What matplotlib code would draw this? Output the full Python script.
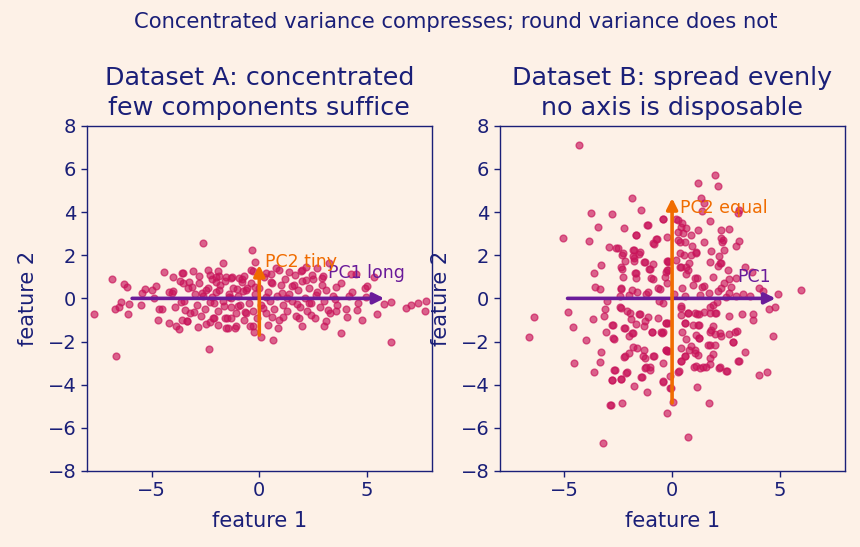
import matplotlib
matplotlib.use('Agg')
import matplotlib.pyplot as plt

# Dataset A: points (x, y)
ax_a = [-7.69, -6.84, -6.67, -6.71, -6.51, -6.4, -6.28, -6.13, -6.1, -6.05, -5.46, -5.29, -4.88, -4.78,
        -4.71, -4.63, -4.43, -4.17, -4.04, -4.0, -3.86, -3.73, -3.63, -3.55, -3.52, -3.43, -3.37, -3.24,
        -3.12, -3.01, -2.86, -2.81, -2.59, -2.47, -2.35, -2.31, -2.3, -2.08, -2.01, -1.93, -1.93, -1.88,
        -1.67, -1.6, -1.53, -1.46, -1.4, -1.32, -1.25, -1.15, -1.0, -0.8, -0.67, -0.57, -0.34, -0.19,
        -0.3, -0.28, -0.23, 0.08, 0.65, 0.54, 0.93, 1.08, 1.5, 1.85, 1.97, 2.16, 2.3, 2.7, 2.96, 3.2,
        3.24, 3.55, 3.78, 4.06, 4.14, 4.24, 4.47, 4.55, 4.78, 4.94, 5.0, 5.32, 5.48, 5.79, 6.13, 6.13,
        6.79, 7.02, 7.38, 7.72, 7.67,
        -3.58, -3.06, -2.39, -2.0, -1.31, -0.69, -0.38, 0.31, 0.77, 1.39, 1.93, 2.16, 2.93, 3.55,
        -3.37, -2.16, -1.54, -1.08, -0.62, 0.39, 2.39, 3.09,
        -4.2, -3.9, -3.7, -3.5, -3.3, -3.2, -3.0, -2.9, -2.8, -2.7, -2.6, -2.5, -2.4, -2.3, -2.2, -2.1,
        -2.0, -1.9, -1.8, -1.7, -1.6, -1.5, -1.4, -1.3, -1.2, -1.1, -1.0, -0.9, -0.8, -0.7, -0.6, -0.5,
        -0.4, -0.3, -0.2, -0.1, 0.0, 0.1, 0.2, 0.3, 0.4, 0.5, 0.6, 0.7, 0.8, 0.9, 1.0, 1.1, 1.2, 1.3,
        1.4, 1.5, 1.6, 1.7, 1.8, 1.9, 2.0, 2.1, 2.2, 2.3, 2.4, 2.5, 2.6, 2.7, 2.8, 2.9, 3.0, 3.1, 3.3,
        3.4, 3.6, 3.8, 4.0, 4.3, 4.6, 4.9,
        -1.85, -0.95, 0.55, 1.65, 2.45, -2.45, -0.45, 0.85, 2.0, 3.0, -3.6, -4.5, -5.0, -5.5, -4.0,
        1.3, -1.3, 0.3, -2.2, 3.5, -0.75, 0.15, 1.05, -1.65, 2.65, -2.65, 0.6, -0.2, 1.75, -1.05]
ay_a = [-0.72, 0.89, -2.65, -0.5, -0.38, -0.15, 0.66, 0.52, -0.72, -0.25, 0.27, 0.42, 0.0, 0.58,
        -1.0, -0.47, 1.21, -1.15, 0.24, 0.36, -1.26, -1.4, -0.19, 1.2, 0.7, -0.53, -1.03, 0.78,
        0.55, -0.61, -1.33, 1.04, 2.55, 0.39, -2.35, 1.1, -0.15, -0.92, 0.76, 1.29, -1.25, 0.4,
        1.63, -0.9, 1.0, -1.36, 0.05, -0.9, 1.0, -1.37, -0.33, 0.78, -0.62, 0.47, 2.25, 1.7,
        -1.3, 1.25, -1.54, -1.8, -1.95, 0.78, 1.32, -0.84, 0.58, -0.92, 1.3, 0.86, -0.2, 1.4, 1.02, -0.56,
        1.63, -0.6, -1.61, -0.86, 0.13, 1.13, 1.15, -0.55, -0.99, 0.05, 0.56, 1.01, -0.72, -0.25, -0.16, -2.03,
        -0.45, -0.29, -0.22, -0.12, -0.58,
        1.17, 1.27, 1.32, 1.01, 0.93, 1.06, 1.32, 1.17, 1.4, 1.24, 1.27, 1.47, 0.96, 0.55,
        -1.07, -0.92, -1.38, -1.3, -0.69, -1.23, -0.76, -1.04,
        0.3, -0.4, 0.8, -0.1, 0.5, -0.7, 0.2, -0.3, 0.7, -0.8, 0.1, -0.5, 0.5, -1.1, 0.9, -0.2,
        0.3, -0.6, 0.6, -0.1, 0.8, -0.9, 0.2, -0.4, 0.5, -0.7, 0.1, -0.3, 0.9, -1.0, 0.4, -0.2,
        0.7, -0.6, 0.2, -0.9, 0.5, -0.3, 1.0, -0.7, 0.3, -0.1, 0.7, -0.5, 0.1, -1.0, 0.6, -0.3, 0.9, -0.6,
        0.2, -0.1, 0.6, -0.8, 0.4, -0.4, 0.8, 0.0, -0.6, 0.5, -0.2, 0.9, -0.9, 0.3, -0.4, 0.6, -0.1, 0.4, -0.7,
        0.1, -0.3, 0.7, -0.5, 0.3, -0.2, 0.5,
        1.05, 0.95, 1.15, 1.1, 1.1, -1.2, -1.3, -1.35, -1.3, -1.3, -1.0, -0.5, 0.4, -0.3, 1.0,
        0.0, 0.0, 0.05, 0.05, -0.05, 0.35, -0.45, 0.25, -0.35, 0.15, 0.25, -0.85, 0.55, -0.25, 0.45]

# Dataset B: points (x, y)
bx_b = [-4.31, -1.86, -3.76, -2.79, -1.44, -0.43, -3.44, -2.23, -1.12, -5.06, -3.85, -1.68, -0.7, -0.86,
        -2.93, -2.51, -2.31, -1.78, -1.8, -1.54, -2.2, -1.78, -1.32, -0.89, -0.19, -3.28, -3.62, -2.37,
        -1.66, -2.28, -1.67, -1.09, -0.96, -0.27, -0.22, -3.59, -3.36, -2.35, -1.63, -1.12, -0.66, -2.0,
        -6.4, -6.63, -4.82, -4.59, -3.67, -3.12, -3.17, -4.0, -4.54, -3.28, -3.36, -3.62, -2.74, -3.05,
        -2.69, -2.25, -2.35, -2.1, -1.92, -1.54, -1.66, -1.3, -2.0, -1.8, -1.12, -0.66, -0.27, -0.93,
        -0.5, -0.43, -2.25, -2.0, -1.81, -1.62, -1.3, -1.27, -0.86, -1.19, -1.02, -0.24, -0.43, -2.69,
        -2.09, -2.79, -2.35, -1.77, -1.38, -1.15, -0.43, -0.08, 0.04, -2.86, -2.32, -0.22, -3.2,
        4.93, 6.0, 4.51, 4.78, 4.67, 4.02, 4.39, 3.4, 3.09, 3.74, 3.77, 3.25, 2.66, 3.0, 2.66, 2.82,
        2.2, 2.25, 1.97, 1.81, 1.88, 1.74, 1.97, 1.92, 1.5, 1.27, 1.08, 0.73, 0.43, 0.43, 0.58, 0.97,
        1.2, 1.09, 1.27, 1.74, 1.97, 0.63, 0.47, 0.43, 0.89, 1.08, 1.2, 0.58, 0.43, 1.74, 1.92, 1.58,
        1.31, 1.0, 2.17, 2.54, 0.32, 1.15, 1.7, 0.73, -0.43, -0.27, -0.19, 2.51, 2.97,
        2.0, 1.19, 2.12, 1.32, 1.5, 1.38, 3.05, 3.1, -0.43, 1.78, 0.19, 0.45, 0.66, 1.19, 2.25, 2.66,
        0.27, 0.5, 0.89, 1.5, 2.28, 2.3, 3.09, 2.97, -0.24, 0.27, 0.35, 0.54, 0.89, 1.09, 1.81, 2.17,
        2.43, 2.28, 2.12, 3.4, 3.71, -0.24, -0.24, 0.35, 0.66, 0.66, 1.04, 1.89, 2.66, 2.43, 0.96, 1.41,
        1.7, 2.12, 2.66, 3.28, 4.05, 4.2,
        0.27, 0.43, 0.35, 0.62, 2.35, -1.66, -1.15, -2.62, -2.28, -1.81, -1.78, -1.27, -1.5, -0.89,
        -0.73, -0.19, -0.19, 0.19, 0.43, 0.73, 0.8, 1.09, 0.93, 1.74, 2.2, 2.6, -2.31, -1.74, -1.04,
        -0.89, -0.33, -2.35, -1.88, -0.58, 0.47, 1.15, 1.5, 2.28, 2.74, 2.97,
        -2.43, -1.97, -1.5, -1.27, -2.2, -2.78, -2.74, -1.88, -0.92, -0.46, -0.27, 0.43, 0.73, 1.15,
        0.58, 1.27, 1.74, 1.74, 2.05, 2.9, 1.27, 1.66, 2.82, 0.8, 1.04, 0.62, 0.43, 1.11, 1.43, 1.74,
        2.2, 2.51, 3.05, -0.19, -0.3, -0.89, -1.35, -2.2, -1.27, -1.04, -2.66, -2.12, -2.77, -2.35,
        -1.42, -0.43, -0.12, -0.04, 0.27, -2.85,
        0.1, 0.6, 1.3, -0.6, -1.2, -2.4, -3.0, 2.1, 3.6]
by_b = [7.09, 4.64, 3.96, 3.9, 4.08, 3.67, 3.3, 3.25, 3.39, 2.79, 2.66, 2.93, 2.74, 2.51,
        2.37, 2.32, 2.01, 2.25, 1.95, 2.05, 1.75, 1.72, 1.68, 1.58, 1.74, 1.55, 1.17, 1.47,
        1.17, 1.01, 0.95, 1.38, 0.96, 1.24, 0.73, 0.55, 0.43, 0.43, 0.3, 0.28, 0.47, 0.15,
        -0.87, -1.8, -0.64, -1.33, -0.96, -0.5, -0.81, -1.92, -3.0, -2.48, -2.94, -3.4, -1.23, -1.57,
        -1.88, -1.37, -0.45, -0.6, -0.96, -0.72, -1.18, -1.3, -1.74, -1.6, -0.84, -0.92, -1.12, -1.55,
        -1.54, -0.22, -2.72, -2.51, -2.26, -2.3, -2.38, -2.77, -2.69, -3.16, -3.2, -2.46, -3.0, -3.31,
        -3.43, -3.8, -3.74, -4.07, -3.65, -4.34, -3.88, -4.16, -4.82, -4.95, -4.85, -5.32, -6.7,
        0.19, 0.39, -0.5, -0.41, -1.74, -3.56, -3.4, -2.48, -2.91, -0.72, -1.0, -0.72, -0.81, -1.5, -1.64, -2.03,
        -1.61, -1.73, -1.66, -1.46, -1.3, -0.66, -0.69, -0.3, -0.61, -0.72, -0.69, -0.66, -0.35, -0.77, -1.12, -1.23,
        -1.23, -1.69, -1.84, -2.15, -2.15, -1.89, -1.54, -2.31, -2.23, -2.39, -2.62, -2.66, -2.92, -2.77, -2.58, -3.16,
        -3.23, -3.16, -3.23, -3.36, -3.36, -4.11, -4.85, -6.43, -1.54, -2.38, -1.15, 0.08, 0.12,
        5.72, 5.33, 5.21, 4.64, 4.4, 4.05, 3.94, 4.1, 3.68, 3.6, 3.67, 3.5, 3.25, 3.17, 3.17, 3.22,
        3.1, 3.02, 2.95, 2.63, 2.79, 2.6, 2.68, 2.43, 2.86, 2.7, 2.09, 2.0, 2.0, 2.09, 2.21, 1.98,
        2.24, 1.63, 1.48, 1.44, 1.24, 1.75, 1.32, 1.47, 1.44, 1.13, 0.93, 1.01, 0.89, 0.7, 0.62, 0.55,
        0.24, 0.32, 0.24, 0.21, 0.47, 0.32,
        3.63, 3.32, 2.63, 2.63, 2.71, 2.94, 3.4, 2.32, 2.09, 2.24, 1.85, 1.7, 2.14, 2.55,
        2.74, 1.7, 1.32, 1.78, 1.45, 1.32, 1.63, 2.17, 2.45, 1.7, 1.63, 1.32, 1.35, 1.17, 1.35,
        0.9, 0.97, 0.47, 0.39, 0.43, 0.47, 0.93, 0.56, 0.47, 0.55, 0.93,
        -0.38, -0.69, -0.72, -1.07, -1.38, -1.23, -1.84, -1.62, -1.54, -1.61, -1.15, -0.45, -0.69, -0.72,
        -1.15, -1.23, -0.38, -1.54, -0.69, -1.54, -1.84, -2.15, -2.0, -2.38, -2.54, -2.66, -2.88, -3.12, -3.2, -3.04,
        -3.2, -3.36, -2.92, -2.46, -2.38, -2.69, -2.69, -2.69, -3.23, -3.31, -3.31, -3.46, -3.77, -3.74,
        -3.65, -3.85, -3.59, -4.16, -3.39, -4.92,
        0.2, 0.1, 0.15, -0.1, 0.2, 0.1, -0.1, -0.15, 0.1]

pc_a = {'pc1': [(-5.9, 0.0), (5.8, 0.0)], 'pc2': [(0.0, -1.7), (0.0, 1.55)]}
pc_b = {'pc1': [(-4.85, 0.0), (4.8, 0.0)], 'pc2': [(0.0, -4.85), (0.0, 4.65)]}

bg = '#FDF1E7'
ink = '#1A1F78'
dot = '#C8145A'
purple = '#6A1B9A'
orange = '#F06C00'

fig = plt.figure(figsize=(8.6, 5.47), dpi=100, facecolor=bg)
axA = fig.add_axes([0.101, 0.139, 0.401, 0.631])
axB = fig.add_axes([0.581, 0.139, 0.401, 0.631])


def panel(ax, xs, ys, pc, title, lab1, lab1_pos, lab2, lab2_pos):
    ax.set_facecolor(bg)
    ax.scatter(xs, ys, s=24, color=dot, alpha=0.65, edgecolors=dot, linewidths=1.0, zorder=2)
    for key, col in (('pc1', purple), ('pc2', orange)):
        (x0, y0), (x1, y1) = pc[key]
        ax.annotate('', xy=(x1, y1), xytext=(x0, y0),
                    arrowprops=dict(arrowstyle='-|>', color=col, lw=2.6,
                                    mutation_scale=16, shrinkA=0, shrinkB=0),
                    zorder=3)
    ax.text(lab1_pos[0], lab1_pos[1], lab1, color=purple, fontsize=12.5, va='center', zorder=4)
    ax.text(lab2_pos[0], lab2_pos[1], lab2, color=orange, fontsize=12.5, va='center', zorder=4)
    ax.set_xlim(-8, 8)
    ax.set_ylim(-8, 8)
    ax.set_xticks([-5, 0, 5])
    ax.set_yticks([-8, -6, -4, -2, 0, 2, 4, 6, 8])
    ax.tick_params(colors=ink, labelsize=14, length=4, width=1)
    for sp in ax.spines.values():
        sp.set_color(ink)
        sp.set_linewidth(1.0)
    ax.set_xlabel('feature 1', color=ink, fontsize=15, labelpad=8)
    ax.set_ylabel('feature 2', color=ink, fontsize=15, labelpad=7)
    ax.set_title(title, color=ink, fontsize=18.3, pad=8, linespacing=1.3)


panel(axA, ax_a, ay_a, pc_a, 'Dataset A: concentrated\nfew components suffice',
      'PC1 long', (3.2, 1.2), 'PC2 tiny', (0.28, 1.7))
panel(axB, bx_b, by_b, pc_b, 'Dataset B: spread evenly\nno axis is disposable',
      'PC1', (3.03, 1.0), 'PC2 equal', (0.35, 4.2))

fig.suptitle('Concentrated variance compresses; round variance does not',
             color=ink, fontsize=15.2, x=0.53, y=0.978)

fig.savefig('out.png', dpi=100, facecolor=bg)
